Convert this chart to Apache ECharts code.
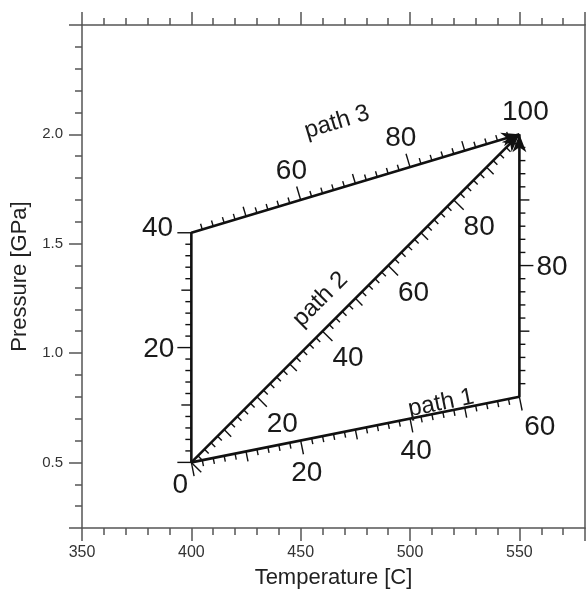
<!DOCTYPE html>
<html><head><meta charset="utf-8">
<script src="https://cdn.jsdelivr.net/npm/echarts@6/dist/echarts.min.js"></script>
<style>html,body{margin:0;padding:0;background:#fff}#c{width:586px;height:590px}</style>
</head><body><div id="c"></div>
<script>
// ---- Axis extents and tick labels ----
const tempRange = [350, 580];
const pressureRange = [0.2, 2.5];
const tempTickLabels = [350, 400, 450, 500, 550];
const tempMajorTicks = [350, 400, 450, 500, 550, 580];
const pressureTickLabels = [0.5, 1.0, 1.5, 2.0];
const pressureMajorTicks = [0.2, 0.5, 1.0, 1.5, 2.0, 2.5];
// ---- P-T paths (Temperature °C, Pressure GPa) ----
const path1Points = [[400, 0.5], [550, 0.8], [550, 2.0]];
const path2Points = [[400, 0.5], [550, 2.0]];
const path3Points = [[400, 0.5], [400, 1.55], [550, 2.0]];
// progress (%) reached at each vertex
const path1Progress = [0, 60, 100];
const path2Progress = [0, 100];
const path3Progress = [0, 40, 100];
const pathNames = ['path 1', 'path 2', 'path 3'];
const progressLabels = [20, 40, 60, 80];
const startLabel = '0';
const endLabel = '100';
const progressTickStep = 2;

const FONT = '"Liberation Sans", Arial, Helvetica, sans-serif';
const AX = '#555';
const NUM_FS = 28, NAME_FS = 24;

const paths = [
  {pts: path1Points, prog: path1Progress, side: 1, name: pathNames[0], nameAt: 46, nameOff: 9, cornerBias: 2},
  {pts: path2Points, prog: path2Progress, side: 1, name: pathNames[1], nameAt: 44.5, nameOff: 24, cornerBias: 2},
  {pts: path3Points, prog: path3Progress, side: -1, name: pathNames[2], nameAt: 70, nameOff: 64, cornerBias: 5}
];

function renderPath(params, api) {
  const p = paths[api.value(2)];
  const px = p.pts.map(d => api.coord(d));
  const segDir = i => {
    const a = px[i], b = px[i + 1];
    const dx = b[0] - a[0], dy = b[1] - a[1], l = Math.hypot(dx, dy);
    return [dx / l, dy / l];
  };
  const rightN = d => [-d[1], d[0]];
  const locate = v => {
    for (let i = 0; i < p.prog.length - 1; i++) {
      if (v <= p.prog[i + 1] + 1e-9) {
        const t = (v - p.prog[i]) / (p.prog[i + 1] - p.prog[i]);
        const a = px[i], b = px[i + 1];
        return {x: a[0] + (b[0] - a[0]) * t, y: a[1] + (b[1] - a[1]) * t, seg: i, vertex: Math.abs(t - 1) < 1e-9 && i < p.prog.length - 2};
      }
    }
  };
  const children = [];
  const tickStyle = {stroke: '#111', lineWidth: 1.4};
  // ticks
  for (let v = 0; v < 100 - 1e-9; v += progressTickStep) {
    const loc = locate(v);
    const d = segDir(loc.seg);
    const n = rightN(d).map(c => c * p.side);
    const len = (v % 20 === 0) ? 14 : (v % 10 === 0 ? 10 : 6);
    children.push({type: 'line', shape: {x1: loc.x, y1: loc.y, x2: loc.x + n[0] * len, y2: loc.y + n[1] * len}, style: tickStyle});
  }
  // numeric labels
  progressLabels.forEach(v => {
    const loc = locate(v);
    let n = rightN(segDir(loc.seg)).map(c => c * p.side);
    if (loc.vertex) {
      const nOut = rightN(segDir(loc.seg + 1)).map(c => c * p.side);
      const b = p.cornerBias;
      const s = [b * n[0] + nOut[0], b * n[1] + nOut[1]], l = Math.hypot(s[0], s[1]);
      n = [s[0] / l, s[1] / l];
    }
    const txt = String(v);
    const w = 0.556 * NUM_FS * txt.length, h = 0.8 * NUM_FS;
    const dist = 17 + Math.abs(n[0]) * w / 2 + Math.abs(n[1]) * h / 2;
    children.push({type: 'text', x: loc.x + n[0] * dist, y: loc.y + n[1] * dist + 2,
      style: {text: txt, align: 'center', verticalAlign: 'middle', font: NUM_FS + 'px ' + FONT, fill: '#1a1a1a'}});
  });
  // path name
  {
    const loc = locate(p.nameAt);
    const d = segDir(loc.seg);
    const L = rightN(d).map(c => -c);
    children.push({type: 'text', x: loc.x + L[0] * p.nameOff, y: loc.y + L[1] * p.nameOff,
      rotation: Math.atan2(-d[1], d[0]),
      style: {text: p.name, align: 'center', verticalAlign: 'middle', font: NAME_FS + 'px ' + FONT, fill: '#1a1a1a'}});
  }
  // arrow head
  {
    const last = px.length - 2;
    const d = segDir(last), n = rightN(d), e = px[px.length - 1];
    const Lh = 18, W = 7;
    const bx = e[0] - d[0] * Lh, by = e[1] - d[1] * Lh;
    children.push({type: 'polygon', shape: {points: [
      [e[0], e[1]], [bx + n[0] * W, by + n[1] * W],
      [e[0] - d[0] * Lh * 0.72, e[1] - d[1] * Lh * 0.72],
      [bx - n[0] * W, by - n[1] * W]]}, style: {fill: '#111'}});
  }
  // shared start / end labels (drawn once)
  if (api.value(2) === 0) {
    const s = px[0], e = px[px.length - 1];
    children.push({type: 'text', x: s[0] - 11, y: s[1] + 23,
      style: {text: startLabel, align: 'center', verticalAlign: 'middle', font: NUM_FS + 'px ' + FONT, fill: '#1a1a1a'}});
    children.push({type: 'text', x: e[0] + 6, y: e[1] - 22,
      style: {text: endLabel, align: 'center', verticalAlign: 'middle', font: NUM_FS + 'px ' + FONT, fill: '#1a1a1a'}});
  }
  return {type: 'group', children};
}

const lineStyleAx = {color: AX, width: 1.5};
const baseAxis = (extra) => Object.assign({
  type: 'value', splitLine: {show: false},
  axisLine: {show: false, onZero: false, lineStyle: lineStyleAx},
  axisTick: {show: true, inside: false, lineStyle: lineStyleAx},
  axisLabel: {show: false}
}, extra);

const option = {
  animation: false,
  backgroundColor: '#fff',
  grid: {left: 82, top: 25, right: 1, bottom: 62, containLabel: false, outerBoundsMode: 'none'},
  xAxis: [
    baseAxis({position: 'bottom', min: tempRange[0], max: tempRange[1],
      axisLine: {show: true, onZero: false, lineStyle: lineStyleAx},
      axisTick: {show: true, inside: false, length: 13, customValues: tempMajorTicks, lineStyle: lineStyleAx},
      axisLabel: {show: true, customValues: tempTickLabels, margin: 17, color: '#333', fontSize: 16, fontFamily: FONT},
      name: 'Temperature [C]', nameLocation: 'middle', nameGap: 39,
      nameTextStyle: {fontSize: 22, color: '#222', fontFamily: FONT}}),
    baseAxis({position: 'bottom', min: tempRange[0], max: tempRange[1], interval: 10,
      axisTick: {show: true, inside: false, length: 7, lineStyle: lineStyleAx}}),
    baseAxis({position: 'top', min: tempRange[0], max: tempRange[1],
      axisLine: {show: true, onZero: false, lineStyle: lineStyleAx},
      axisTick: {show: true, inside: false, length: 13, customValues: tempMajorTicks, lineStyle: lineStyleAx}}),
    baseAxis({position: 'top', min: tempRange[0], max: tempRange[1], interval: 10,
      axisTick: {show: true, inside: false, length: 7, lineStyle: lineStyleAx}})
  ],
  yAxis: [
    baseAxis({position: 'left', min: pressureRange[0], max: pressureRange[1],
      axisLine: {show: true, onZero: false, lineStyle: lineStyleAx},
      axisTick: {show: true, inside: false, length: 13, customValues: pressureMajorTicks, lineStyle: lineStyleAx},
      axisLabel: {show: true, customValues: pressureTickLabels, margin: 19, color: '#333', fontSize: 15, fontFamily: FONT,
        formatter: v => Number(v).toFixed(1)},
      name: 'Pressure [GPa]', nameLocation: 'middle', nameGap: 47,
      nameTextStyle: {fontSize: 22, color: '#222', fontFamily: FONT}}),
    baseAxis({position: 'left', min: pressureRange[0], max: pressureRange[1], interval: 0.1,
      axisTick: {show: true, inside: false, length: 7, lineStyle: lineStyleAx}}),
    baseAxis({position: 'right', min: pressureRange[0], max: pressureRange[1],
      axisLine: {show: true, onZero: false, lineStyle: lineStyleAx},
      axisTick: {show: false}})
  ],
  series: [
    ...[path1Points, path2Points, path3Points].map((pts, i) => ({
      type: 'line', name: pathNames[i], data: pts, xAxisIndex: 0, yAxisIndex: 0,
      showSymbol: false, symbol: 'none', lineStyle: {color: '#111', width: 2.6}, z: 3
    })),
    {
      type: 'custom', xAxisIndex: 0, yAxisIndex: 0, z: 4,
      data: paths.map((p, i) => [p.pts[0][0], p.pts[0][1], i]),
      encode: {x: 0, y: 1},
      renderItem: renderPath, clip: false
    }
  ]
};
const chart = echarts.init(document.getElementById('c'), null, {renderer: 'canvas'});
chart.setOption(option);
</script></body></html>
